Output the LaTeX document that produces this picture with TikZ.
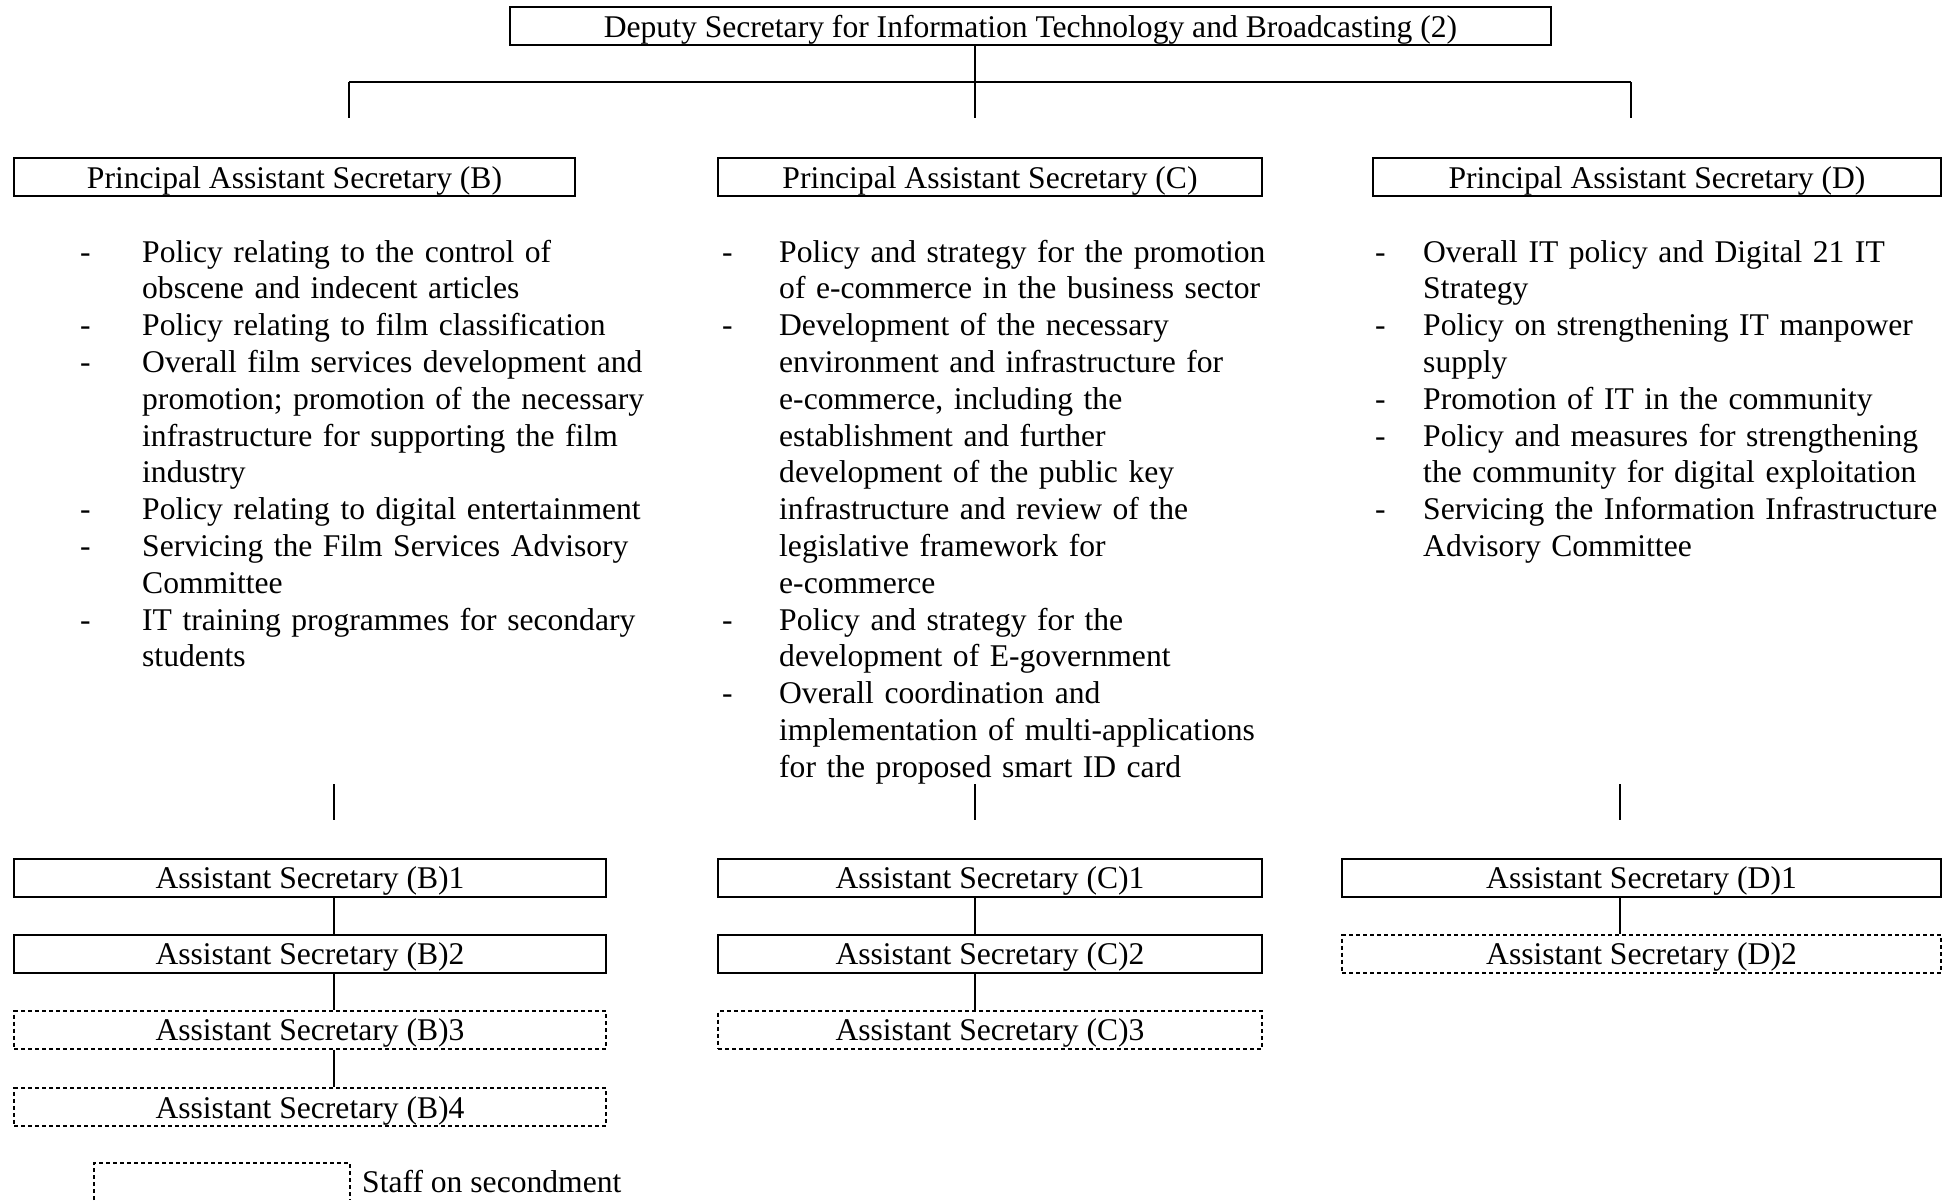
\documentclass[tikz,border=0pt]{standalone}
\usepackage{fontspec}
\setmainfont{Liberation Serif}
\newcommand\orgfont{\fontsize{31.6pt}{36.8pt}\selectfont}
\newcommand\bul[2]{\par\noindent\hangindent=#1\hangafter=1\makebox[#1][l]{-}#2\par}
\tikzset{
  box/.style={draw, line width=2pt, inner sep=0pt, text height=24pt, text depth=2pt, font=\orgfont},
  dbox/.style={box, dash pattern=on 4pt off 3pt},
  conn/.style={line width=1.3pt},
  coltext/.style={inner sep=0pt, align=left, font=\orgfont, anchor=north west, text width=640pt},
}
\begin{document}
\begin{tikzpicture}[x=1pt,y=-1pt]
\useasboundingbox (0,0) rectangle (1955,1200);
\hyphenpenalty=10000
% top
\node[box, minimum width=1041pt, minimum height=37.5pt] (top) at (1030.5,26) {Deputy Secretary for Information Technology and Broadcasting (2)};
% principal assistant secretaries
\node[box, minimum width=561pt, minimum height=38pt] (pB) at (294.5,177) {Principal Assistant Secretary (B)};
\node[box, minimum width=544pt, minimum height=38pt] (pC) at (990,177) {Principal Assistant Secretary (C)};
\node[box, minimum width=568pt, minimum height=38pt] (pD) at (1657,177) {Principal Assistant Secretary (D)};
% connectors top
\coordinate (hub) at (975,82);
\coordinate (hubL) at (349,82);
\coordinate (hubR) at (1631,82);
\coordinate (dB) at (349,118);
\coordinate (dC) at (975,118);
\coordinate (dD) at (1631,118);
\draw[conn] (top.south -| hub) -- (hub);
\draw[conn] (hubL) -- (hubR);
\draw[conn] (hubL) -- (dB);
\draw[conn] (hub) -- (dC);
\draw[conn] (hubR) -- (dD);
% column texts
\node[coltext] (tB) at (80,225) {%
\bul{62pt}{\strut Policy relating to the control of\newline obscene and indecent articles}
\bul{62pt}{Policy relating to film classification}
\bul{62pt}{Overall film services development and\newline promotion; promotion of the necessary\newline infrastructure for supporting the film\newline industry}
\bul{62pt}{Policy relating to digital entertainment}
\bul{62pt}{Servicing the Film Services Advisory\newline Committee}
\bul{62pt}{IT training programmes for secondary\newline students}};
\node[coltext] (tC) at (722,225) {%
\bul{57pt}{\strut Policy and strategy for the promotion\newline of e-commerce in the business sector}
\bul{57pt}{Development of the necessary\newline environment and infrastructure for\newline e-commerce, including the\newline establishment and further\newline development of the public key\newline infrastructure and review of the\newline legislative framework for\newline e-commerce}
\bul{57pt}{Policy and strategy for the\newline development of E-government}
\bul{57pt}{Overall coordination and\newline implementation of multi-applications\newline for the proposed smart ID card}};
\node[coltext] (tD) at (1375,225) {%
\bul{48pt}{\strut Overall IT policy and Digital 21 IT\newline Strategy}
\bul{48pt}{Policy on strengthening IT manpower\newline supply}
\bul{48pt}{Promotion of IT in the community}
\bul{48pt}{Policy and measures for strengthening\newline the community for digital exploitation}
\bul{48pt}{Servicing the Information Infrastructure\newline Advisory Committee}};
% stubs
\coordinate (sB1) at (334,784); \coordinate (sB2) at (334,820);
\coordinate (sC1) at (975,784); \coordinate (sC2) at (975,820);
\coordinate (sD1) at (1620,784); \coordinate (sD2) at (1620,820);
\draw[conn] (sB1) -- (sB2);
\draw[conn] (sC1) -- (sC2);
\draw[conn] (sD1) -- (sD2);
% assistant secretaries
\node[box, minimum width=592pt, minimum height=37.5pt] (aB1) at (310,877.8) {Assistant Secretary (B)1};
\node[box, minimum width=592pt, minimum height=37.5pt] (aB2) at (310,953.8) {Assistant Secretary (B)2};
\node[dbox, minimum width=592pt, minimum height=37.5pt] (aB3) at (310,1029.8) {Assistant Secretary (B)3};
\node[dbox, minimum width=592pt, minimum height=37.5pt] (aB4) at (310,1107.2) {Assistant Secretary (B)4};
\node[box, minimum width=544pt, minimum height=37.5pt] (aC1) at (990,877.8) {Assistant Secretary (C)1};
\node[box, minimum width=544pt, minimum height=37.5pt] (aC2) at (990,953.8) {Assistant Secretary (C)2};
\node[dbox, minimum width=544pt, minimum height=37.5pt] (aC3) at (990,1029.8) {Assistant Secretary (C)3};
\node[box, minimum width=599pt, minimum height=37.5pt] (aD1) at (1641.5,877.8) {Assistant Secretary (D)1};
\node[dbox, minimum width=599pt, minimum height=37.5pt] (aD2) at (1641.5,953.8) {Assistant Secretary (D)2};
\draw[conn] (aB1.south -| sB1) -- (aB2.north -| sB1);
\draw[conn] (aB2.south -| sB1) -- (aB3.north -| sB1);
\draw[conn] (aB3.south -| sB1) -- (aB4.north -| sB1);
\draw[conn] (aC1.south -| sC1) -- (aC2.north -| sC1);
\draw[conn] (aC2.south -| sC1) -- (aC3.north -| sC1);
\draw[conn] (aD1.south -| sD1) -- (aD2.north -| sD1);
% legend
\draw[line width=2pt, dash pattern=on 4pt off 3pt] (94,1200) |- (350,1163) -- (350,1200);
\node[inner sep=0pt, anchor=base west, font=\orgfont] (legend) at (362,1192) {Staff on secondment};
\end{tikzpicture}
\end{document}
